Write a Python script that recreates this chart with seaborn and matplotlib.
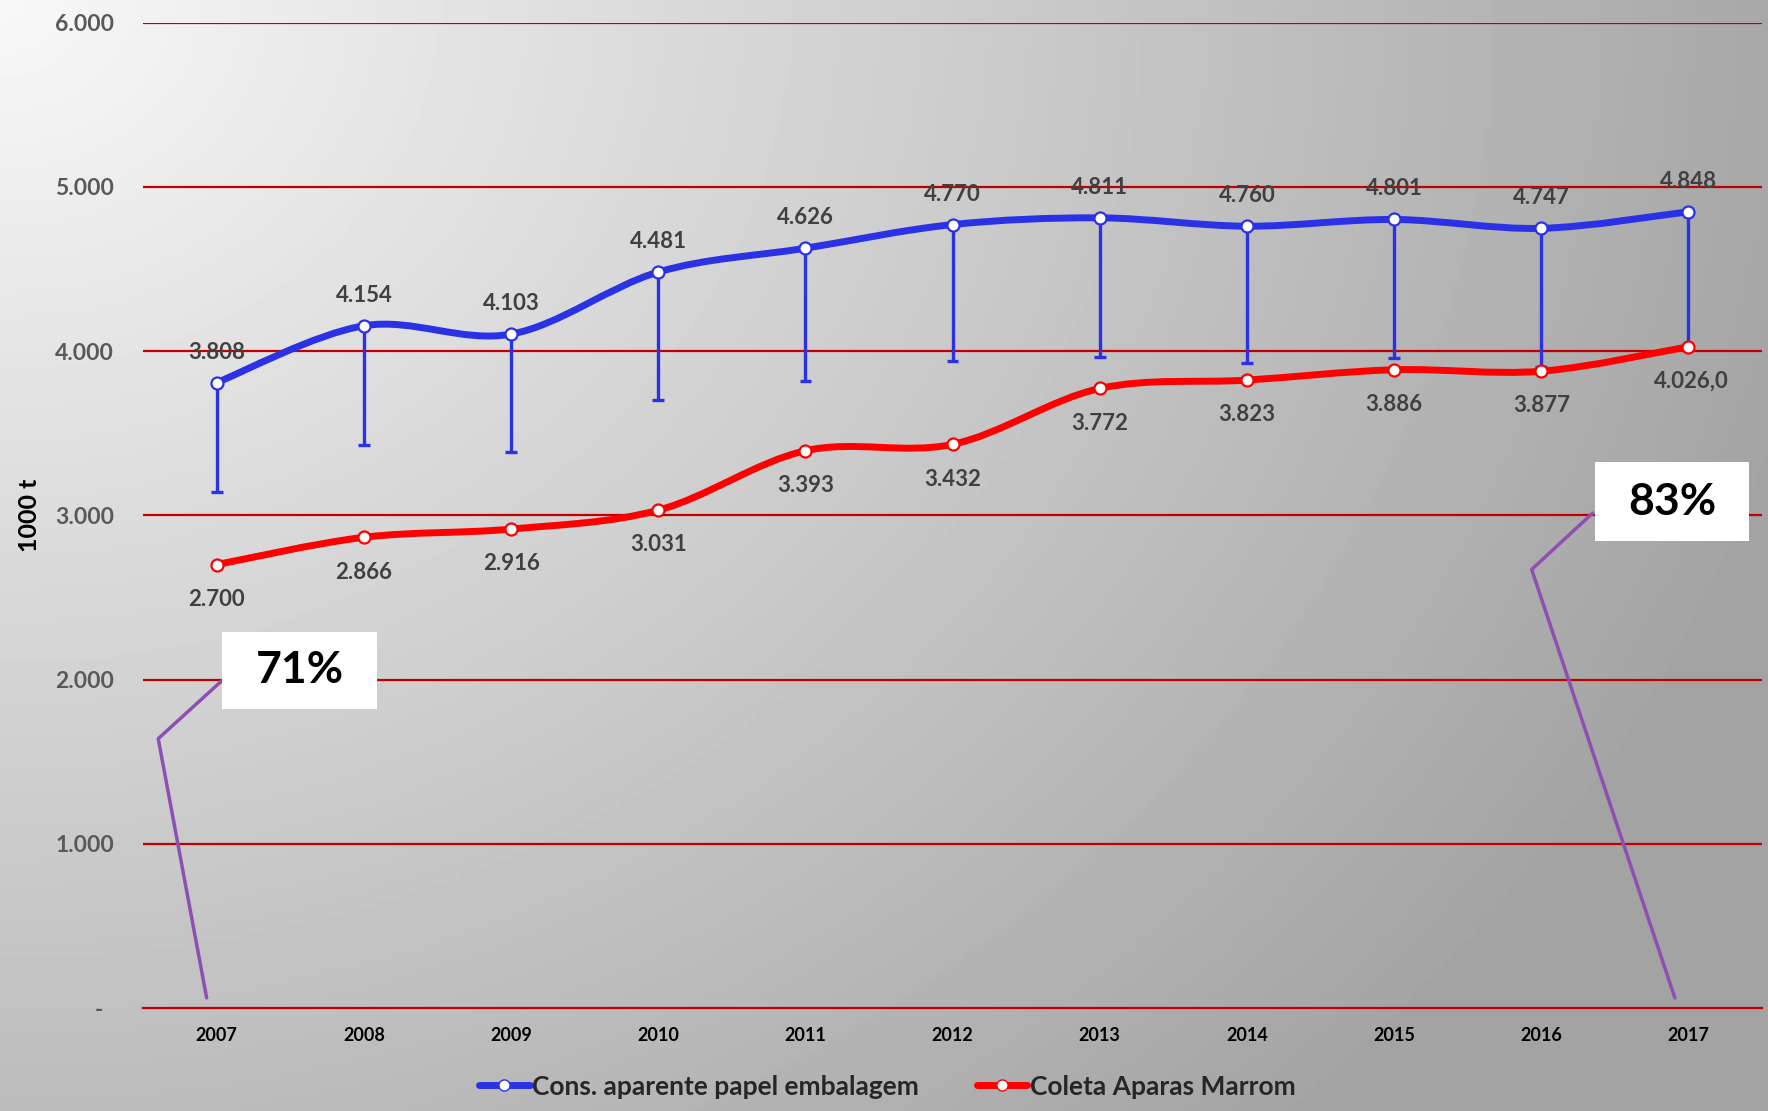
import numpy as np
import pandas as pd
import matplotlib
matplotlib.use('Agg')
import matplotlib.pyplot as plt
import seaborn as sns
from matplotlib.path import Path
from matplotlib.patches import PathPatch, Rectangle
from matplotlib.lines import Line2D

# Dados (1000 t)
anos = ['2007', '2008', '2009', '2010', '2011', '2012', '2013', '2014', '2015', '2016', '2017']
consumo = [3808, 4154, 4103, 4481, 4626, 4770, 4811, 4760, 4801, 4747, 4848]
coleta = [2700, 2866, 2916, 3031, 3393, 3432, 3772, 3823, 3886, 3877, 4026]
consumo_min = [3140, 3425, 3385, 3700, 3815, 3940, 3965, 3925, 3960, 3905, 4030]  # fim das barras verticais
rot_consumo = ['3.808', '4.154', '4.103', '4.481', '4.626', '4.770', '4.811', '4.760', '4.801', '4.747', '4.848']
rot_coleta = ['2.700', '2.866', '2.916', '3.031', '3.393', '3.432', '3.772', '3.823', '3.886', '3.877', '4.026,0']
y_ticks = [0, 1000, 2000, 3000, 4000, 5000, 6000]
y_labels = ['-  ', '1.000', '2.000', '3.000', '4.000', '5.000', '6.000']
taxas = ['71%', '83%']
serie_nomes = ['Cons. aparente papel embalagem', 'Coleta Aparas Marrom']

AZUL = '#2B32E6'
VERMELHO = '#FF0000'
GRADE = '#C00000'
ROXO = '#8E4FB5'

sns.set_style('white')
plt.rcParams['font.family'] = ['Lato', 'DejaVu Sans']
plt.rcParams['font.weight'] = 'bold'

df = pd.DataFrame({'ano': anos, 'x': np.arange(len(anos)), 'consumo': consumo,
                   'coleta': coleta, 'consumo_min': consumo_min})


def curva_suave(x, y):
    # curva de Bezier tipo Excel (Catmull-Rom) passando pelos pontos
    n = len(x)
    verts = [(x[0], y[0])]
    codes = [Path.MOVETO]
    for i in range(n - 1):
        xa, ya = (x[i - 1], y[i - 1]) if i > 0 else (x[i], y[i])
        xd, yd = (x[i + 2], y[i + 2]) if i + 2 < n else (x[i + 1], y[i + 1])
        c1 = (x[i] + (x[i + 1] - xa) / 6, y[i] + (y[i + 1] - ya) / 6)
        c2 = (x[i + 1] - (xd - x[i]) / 6, y[i + 1] - (yd - y[i]) / 6)
        verts += [c1, c2, (x[i + 1], y[i + 1])]
        codes += [Path.CURVE4] * 3
    return Path(verts, codes)


fig = plt.figure(figsize=(17.68, 11.11), dpi=100)

# fundo em degrade
bg = fig.add_axes([0, 0, 1, 1], zorder=-10)
gx, gy = np.meshgrid(np.linspace(0, 1, 400), np.linspace(0, 1, 250))
grad = 248 - np.sqrt((80 * gx) ** 2 + (60 * gy) ** 2)
grad = np.clip(grad, 164, 255)
bg.imshow(grad, cmap='gray', vmin=0, vmax=255, aspect='auto', extent=[0, 1, 0, 1], origin='upper')
bg.axis('off')

ax = fig.add_axes([0.081, 0.0927, 0.9156, 0.887])
ax.patch.set_alpha(0)

x = df['x'].values

# linhas de grade
for yt in y_ticks[1:]:
    ax.axhline(yt, color=GRADE, lw=1.6, zorder=1)

# barras verticais
ax.vlines(x, df['consumo_min'], df['consumo'], color=AZUL, lw=2.4, zorder=3)
ax.hlines(df['consumo_min'], x - 0.04, x + 0.04, color=AZUL, lw=2.4, zorder=3)

# linhas suavizadas
ax.add_patch(PathPatch(curva_suave(x, df['consumo'].values), fill=False, edgecolor=AZUL,
                       lw=5, capstyle='round', zorder=4))
ax.add_patch(PathPatch(curva_suave(x, df['coleta'].values), fill=False, edgecolor=VERMELHO,
                       lw=5, capstyle='round', zorder=4))

sns.scatterplot(data=df, x='x', y='consumo', color='white', edgecolor=AZUL, linewidth=1.6,
                s=75, zorder=5, ax=ax, legend=False)
sns.scatterplot(data=df, x='x', y='coleta', color='white', edgecolor=VERMELHO, linewidth=1.6,
                s=75, zorder=5, ax=ax, legend=False)

# rotulos de dados
for i in range(len(anos)):
    ax.annotate(rot_consumo[i], (x[i], consumo[i]), xytext=(0, 22), textcoords='offset points',
                ha='center', va='center', fontsize=16, color='#404040', fontweight='bold', zorder=6)
    dx = 2 if i == len(anos) - 1 else 0
    ax.annotate(rot_coleta[i], (x[i], coleta[i]), xytext=(dx, -25), textcoords='offset points',
                ha='center', va='center', fontsize=16, color='#404040', fontweight='bold', zorder=6)

# caixas de percentual com linhas roxas
ax.plot([-0.069, -0.398, 0.031], [62, 1640, 1990], color=ROXO, lw=2.5, clip_on=False, zorder=6)
ax.add_patch(Rectangle((0.038, 1819), 1.05, 473, facecolor='white', edgecolor='none', zorder=7))
ax.text(0.563, 2056, taxas[0], ha='center', va='center', fontsize=32, fontweight='bold',
        color='black', zorder=8)
ax.plot([9.908, 8.935, 9.349], [62, 2670, 3013], color=ROXO, lw=2.5, clip_on=False, zorder=6)
ax.add_patch(Rectangle((9.364, 2842), 1.05, 480, facecolor='white', edgecolor='none', zorder=7))
ax.text(9.889, 3082, taxas[1], ha='center', va='center', fontsize=32, fontweight='bold',
        color='black', zorder=8)

# eixos
ax.set_xlim(-0.5, 10.5)
ax.set_ylim(0, 6000)
ax.set_yticks(y_ticks)
ax.set_yticklabels(y_labels, fontsize=16.5, color='#595959', fontweight='bold')
ax.set_xticks(x)
ax.set_xticklabels(anos, fontsize=13, color='black', fontweight='bold')
ax.set_xticks(np.arange(-0.5, 11, 1), minor=True)
ax.tick_params(axis='x', which='major', length=0, pad=14)
ax.tick_params(axis='x', which='minor', length=7, width=1.6, color=GRADE, direction='out')
ax.tick_params(axis='y', length=0, pad=21)
for s in ['top', 'right', 'left']:
    ax.spines[s].set_visible(False)
ax.spines['bottom'].set_color(GRADE)
ax.spines['bottom'].set_linewidth(1.6)
ax.set_xlabel('')
ax.set_ylabel('1000 t', fontsize=18, fontweight='bold', color='black')
ax.yaxis.set_label_coords(-0.063, 0.5)

handles = [Line2D([], [], color=AZUL, lw=5, marker='o', markerfacecolor='white',
                  markeredgecolor=AZUL, markersize=8),
           Line2D([], [], color=VERMELHO, lw=5, marker='o', markerfacecolor='white',
                  markeredgecolor=VERMELHO, markersize=8)]
fig.legend(handles, serie_nomes, loc='center', bbox_to_anchor=(0.502, 0.022), ncol=2,
           frameon=False, handlelength=1.9, handletextpad=0.1, columnspacing=2.2,
           numpoints=1, prop={'size': 19, 'weight': 'bold'})

fig.savefig('out.png', dpi=100)
